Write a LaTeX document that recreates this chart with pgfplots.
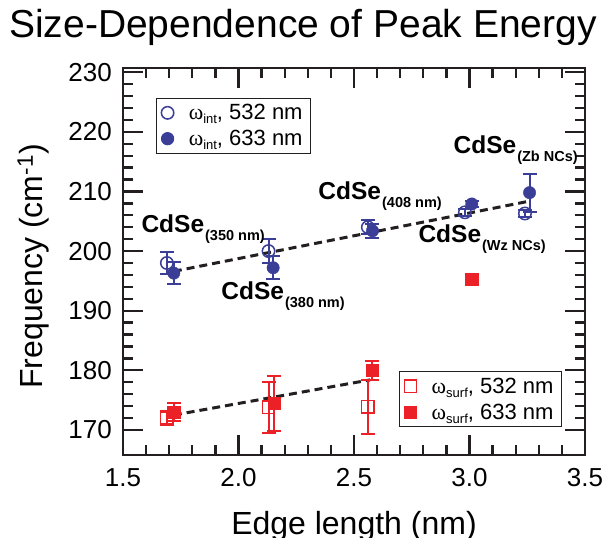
\documentclass[border=0pt]{standalone}
\usepackage{pgfplots}
\pgfplotsset{compat=1.18}
\usepackage{fontspec}
\setmainfont{Liberation Sans}
\newfontfamily\grk{Liberation Serif}

\definecolor{dblue}{RGB}{58,62,150}
\definecolor{dred}{RGB}{236,32,39}
\definecolor{ink}{RGB}{35,31,32}

% omega with a subscript, as in the legends
\newcommand{\om}[1]{{\grk ω}\raisebox{-4pt}{\fontsize{13}{13}\selectfont #1}}
% bold sample labels
\newcommand{\cdse}[1]{{\fontsize{24.5}{24.5}\selectfont\bfseries CdSe}\hspace{1pt}\raisebox{-8pt}{\fontsize{14.5}{14.5}\selectfont\bfseries (#1)}}

\pgfplotsset{
  base/.style={
    width=462pt, height=387pt, scale only axis,
    at={(0pt,0pt)}, anchor=south west,
    xmin=1.5, xmax=3.5, ymin=165.8, ymax=230.7,
  },
  errb/.style={
    error bars/.cd, y dir=both, y explicit,
    error bar style={line width=2pt},
    error mark options={rotate=90, mark size=7pt, line width=2pt},
  },
  lgd/.style={
    legend style={draw=ink, line width=0.8pt, fill=white,
      font=\fontsize{22}{22}\selectfont,
      inner xsep=5pt, inner ysep=3pt, row sep=3pt, column sep=12pt,
      nodes={inner sep=3pt}},
    legend cell align=left,
    legend image code/.code={\draw[##1] plot coordinates {(0pt,0pt)};},
  },
}

% peak positions: x = edge length (nm), y = frequency, e = error
\pgfplotstableread{
x    y     e
1.69 198.0 1.8
2.13 200.0 2.0
2.56 204.0 1.2
2.98 206.5 0.6
3.24 206.3 0.6
}\intA
\pgfplotstableread{
x     y     e
1.72  196.3 1.8
2.15  197.2 1.9
2.58  203.4 1.2
3.01  207.9 0.5
3.26  209.8 3.2
}\intB
\pgfplotstableread{
x    y     e
1.69 172.0 1.1
2.13 173.8 4.3
2.56 173.9 4.5
}\surfA
\pgfplotstableread{
x     y     e
1.72  173.0 1.5
2.155 174.5 4.6
2.58  180.0 1.6
3.01  195.3 0.5
}\surfB

\begin{document}
\begin{tikzpicture}
\begin{axis}[base, lgd,
  axis line style={line width=2.5pt, ink},
  tick align=inside, tick pos=both,
  major tick length=20pt, minor tick length=10pt,
  every tick/.style={line width=2.3pt, ink},
  xtick={1.5,2,2.5,3,3.5}, minor x tick num=4,
  ytick={170,180,...,230}, minor y tick num=4,
  ticklabel style={font=\fontsize{26}{26}\selectfont, inner sep=0pt},
  yticklabel style={anchor=east, xshift=-11pt},
  xticklabel style={anchor=north, yshift=-13pt,
    /pgf/number format/fixed, /pgf/number format/fixed zerofill,
    /pgf/number format/precision=1},
  /pgf/number format/assume math mode=true,
  xlabel={Edge length (nm)},
  ylabel={Frequency (cm\textsuperscript{-1})},
  label style={font=\fontsize{32}{32}\selectfont},
  xlabel style={at={(axis description cs:0.5,0)}, anchor=base, yshift=-80pt},
  ylabel style={at={(axis description cs:-0.1753,0.487)}, anchor=base},
  title={Size-Dependence of Peak Energy},
  title style={font=\fontsize{39}{39}\selectfont, at={(axis description cs:0.3896,1)}, anchor=base, yshift=24pt},
  legend style={at={(axis description cs:0.0714,0.9225)}, anchor=north west},
]
\addplot[ink, line width=3pt, dash pattern=on 8pt off 5pt, forget plot]
  coordinates {(1.72,196.6) (3.25,208.3)};
\addplot[dblue, only marks, mark=o, mark size=6.2pt, mark options={line width=1.5pt}, errb]
  table[x=x, y=y, y error=e] {\intA};
\addlegendentry{\om{int}, 532 nm}
\addplot[dblue, only marks, mark=*, mark size=6.2pt, errb]
  table[x=x, y=y, y error=e] {\intB};
\addlegendentry{\om{int}, 633 nm}

\node[anchor=base west] at (axis cs:1.565,203.05) {\cdse{350 nm}};
\node[anchor=base west] at (axis cs:1.911,191.8) {\cdse{380 nm}};
\node[anchor=base west] at (axis cs:2.331,208.6) {\cdse{408 nm}};
\node[anchor=base west] at (axis cs:2.764,201.5) {\cdse{Wz NCs}};
\node[anchor=base west] at (axis cs:2.916,216.3) {\cdse{Zb NCs}};
\end{axis}

\begin{axis}[base, lgd, hide axis,
  legend style={at={(axis description cs:0.950,0.0724)}, anchor=south east},
]
\addplot[ink, line width=3pt, dash pattern=on 8pt off 5pt, forget plot]
  coordinates {(1.72,172.5) (2.57,178.4)};
\addplot[dred, only marks, mark=square, mark size=6.2pt, mark options={line width=1.5pt}, errb]
  table[x=x, y=y, y error=e] {\surfA};
\addlegendentry{\om{surf}, 532 nm}
\addplot[dred, only marks, mark=square*, mark size=6.2pt, errb]
  table[x=x, y=y, y error=e] {\surfB};
\addlegendentry{\om{surf}, 633 nm}
\end{axis}

\pgfresetboundingbox
\path[use as bounding box] (-123pt,-83pt) rectangle (483pt,455pt);
\end{tikzpicture}
\end{document}
